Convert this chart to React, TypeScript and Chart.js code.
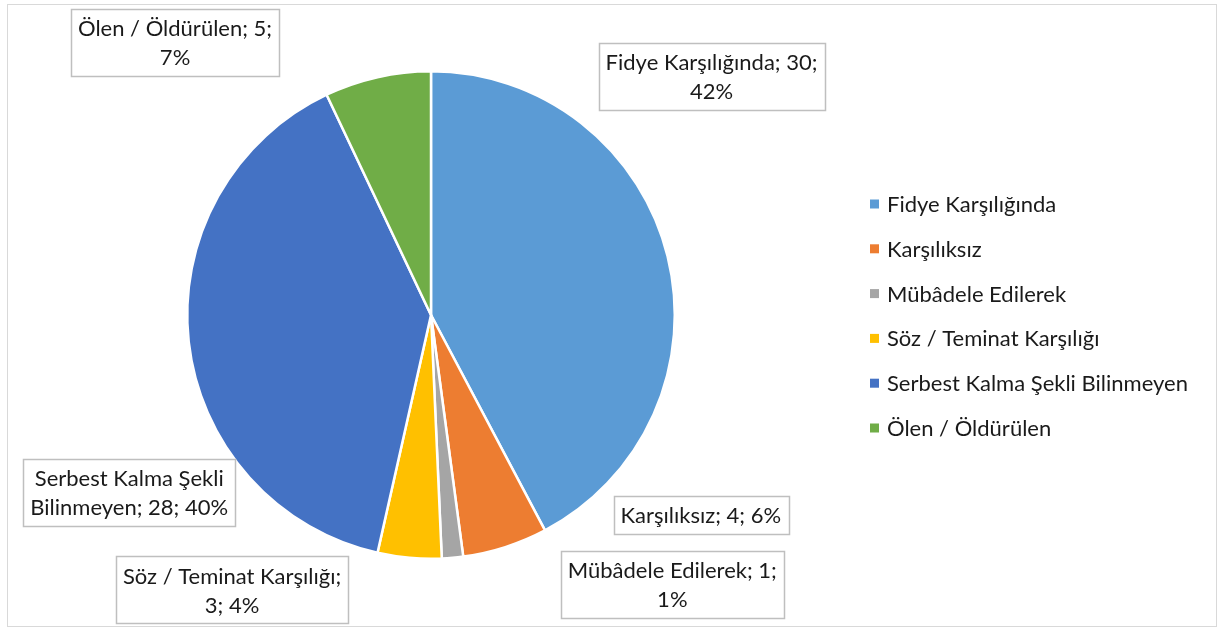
import React, { useEffect, useRef } from "react";
import { Chart, registerables } from "chart.js";

Chart.register(...registerables);

// ---- data ----
const categories = [
  "Fidye Karşılığında",
  "Karşılıksız",
  "Mübâdele Edilerek",
  "Söz / Teminat Karşılığı",
  "Serbest Kalma Şekli Bilinmeyen",
  "Ölen / Öldürülen",
];
const counts = [30, 4, 1, 3, 28, 5];
const percentLabels = ["42%", "6%", "1%", "4%", "40%", "7%"];

// ---- styles / layout ----
const sliceColors = ["#5B9BD5", "#ED7D31", "#A5A5A5", "#FFC000", "#4472C4", "#70AD47"];
const wordsOnFirstLine = [3, 99, 3, 4, 3, 4];
const labelOffsets: [number, number][] = [
  [1.151, -0.979],
  [1.107, 0.822],
  [0.99, 1.105],
  [-0.816, 1.128],
  [-1.238, 0.729],
  [-1.05, -1.118],
];
const FONT_FAMILY = "Lato, 'Open Sans', sans-serif";
const FONT_SIZE = 22;
const LINE_H = 29;
const TEXT_COLOR = "#1a1a1a";

const labelPlugin = {
  id: "boxLabels",
  afterDatasetsDraw(chart: any) {
    const ctx = chart.ctx as CanvasRenderingContext2D;
    const meta = chart.getDatasetMeta(0);
    ctx.save();
    ctx.font = `${FONT_SIZE}px ${FONT_FAMILY}`;
    ctx.textAlign = "center";
    ctx.textBaseline = "middle";
    meta.data.forEach((arc: any, i: number) => {
      const words = `${categories[i]}; ${counts[i]}; ${percentLabels[i]}`.split(" ");
      const n = wordsOnFirstLine[i];
      const lines = [words.slice(0, n).join(" ")];
      if (words.length > n) lines.push(words.slice(n).join(" "));
      const R = arc.outerRadius;
      const cx = arc.x + labelOffsets[i][0] * R;
      const cy = arc.y + labelOffsets[i][1] * R;
      const w = Math.max(...lines.map((l) => ctx.measureText(l).width)) + 14;
      const h = lines.length * LINE_H + 9;
      ctx.fillStyle = "#ffffff";
      ctx.fillRect(cx - w / 2, cy - h / 2, w, h);
      ctx.strokeStyle = "#bfbfbf";
      ctx.lineWidth = 1.5;
      ctx.strokeRect(Math.round(cx - w / 2) + 0.5, Math.round(cy - h / 2) + 0.5, Math.round(w), Math.round(h));
      ctx.fillStyle = TEXT_COLOR;
      lines.forEach((l, k) => {
        ctx.fillText(l, cx, cy + 1 - ((lines.length - 1) * LINE_H) / 2 + k * LINE_H);
      });
    });
    ctx.restore();
  },
};

const legendPlugin = {
  id: "sideLegend",
  afterDraw(chart: any) {
    const ctx = chart.ctx as CanvasRenderingContext2D;
    const labels = chart.data.labels as string[];
    const colors = chart.data.datasets[0].backgroundColor as string[];
    const x0 = 870;
    const y0 = 204;
    const step = 44.8;
    ctx.save();
    ctx.font = `${FONT_SIZE}px ${FONT_FAMILY}`;
    ctx.textAlign = "left";
    ctx.textBaseline = "middle";
    labels.forEach((lab, i) => {
      const y = y0 + i * step;
      ctx.fillStyle = colors[i];
      ctx.fillRect(x0, y - 4.5, 9, 9);
      ctx.fillStyle = TEXT_COLOR;
      ctx.fillText(lab, x0 + 17, y + 1);
    });
    ctx.restore();
  },
};

export default function App() {
  const ref = useRef<HTMLCanvasElement>(null);
  useEffect(() => {
    if (!ref.current) return;
    const chart = new Chart(ref.current, {
      type: "pie",
      data: {
        labels: categories,
        datasets: [
          {
            data: counts,
            backgroundColor: sliceColors,
            borderColor: "#ffffff",
            borderWidth: 2.5,
          },
        ],
      },
      options: {
        responsive: false,
        animation: false,
        layout: { padding: { left: 186, top: 70, bottom: 68, right: 541 } },
        plugins: { legend: { display: false }, tooltip: { enabled: false } },
      },
      plugins: [labelPlugin, legendPlugin],
    });
    (document as any).fonts?.load?.(`${FONT_SIZE}px Lato`).then(() => chart.update()).catch(() => {});
    return () => chart.destroy();
  }, []);
  return (
    <div style={{ position: "absolute", left: 0, top: 0, width: 1217, height: 628, background: "#fff" }}>
      <div
        style={{
          position: "absolute",
          left: 7,
          top: 4,
          width: 1208,
          height: 621,
          border: "1px solid #d9d9d9",
        }}
      />
      <canvas ref={ref} width={1217} height={628} style={{ position: "absolute", left: 0, top: 0 }} />
    </div>
  );
}
